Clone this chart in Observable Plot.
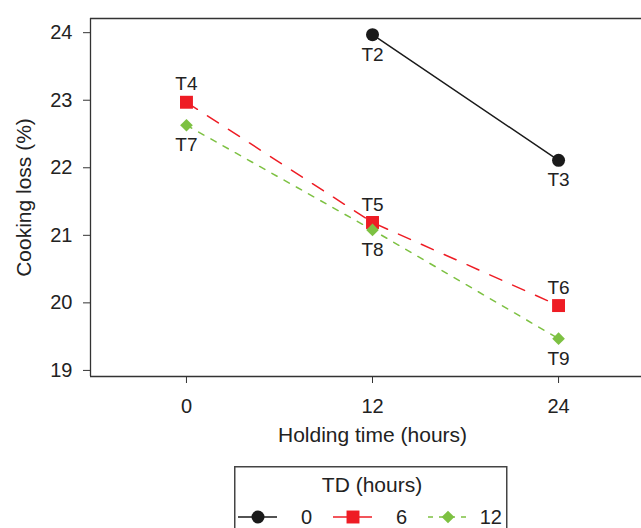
<!DOCTYPE html>
<html><head><meta charset="utf-8">
<script src="https://cdn.jsdelivr.net/npm/d3@7"></script>
<script src="https://cdn.jsdelivr.net/npm/@observablehq/plot@0.6"></script>
<style>
body{margin:0;background:#fff;}
#wrap{position:relative;width:641px;height:528px;overflow:hidden;font-family:"Liberation Sans",Arial,Helvetica,sans-serif;color:#222;}
#legend{position:absolute;left:234px;top:466px;}
</style></head><body><div id="wrap"></div>
<script>
// ---- data ----
const hours = [0, 12, 24];
const tdLevels = ["0", "6", "12"];
const lossTD0 = [null, 23.97, 22.11];
const lossTD6 = [22.97, 21.19, 19.96];
const lossTD12 = [22.63, 21.08, 19.47];
const labelsTD0 = [null, "T2", "T3"];
const labelsTD6 = ["T4", "T5", "T6"];
const labelsTD12 = ["T7", "T8", "T9"];
const sideTD0 = [null, "below", "below"];
const sideTD6 = ["above", "above", "above"];
const sideTD12 = ["below", "below", "below"];
const xTicks = [0, 12, 24];
const yTicks = [19, 20, 21, 22, 23, 24];
const xTitle = "Holding time (hours)";
const yTitle = "Cooking loss (%)";
const legendTitle = "TD (hours)";

// ---- styles ----
const colors = ["#1a1a1a", "#ee1c24", "#7dc142"];
const symbols = ["circle", "square", "diamond2"];
const radii = [6.5, 7.3, 5.7];
const dashes = [null, "13,12", "6,8"];

const seriesLoss = [lossTD0, lossTD6, lossTD12];
const seriesLabels = [labelsTD0, labelsTD6, labelsTD12];
const seriesSide = [sideTD0, sideTD6, sideTD12];

const rows = [];
tdLevels.forEach((td, s) => {
  hours.forEach((h, i) => {
    if (seriesLoss[s][i] != null) rows.push({td, s, hour: h, loss: seriesLoss[s][i], label: seriesLabels[s][i], side: seriesSide[s][i]});
  });
});

const xDomain = [-6.19, 29.35];
const yDomain = [18.91, 24.21];
const tickFont = 20, titleFont = 21, labelFont = 19;
const ff = '"Liberation Sans", Arial, Helvetica, sans-serif';

const marks = [
  Plot.ruleY([yDomain[0], yDomain[1]], {stroke: "#333", strokeWidth: 1.3}),
  Plot.ruleX([xDomain[0]], {stroke: "#333", strokeWidth: 1.3}),
  Plot.axisY(yTicks, {tickSize: 7, tickPadding: 11, fontSize: tickFont, label: null, stroke: "#333", tickFormat: d => String(d)}),
  Plot.axisX(xTicks, {tickSize: 7, tickPadding: 15, fontSize: tickFont, label: null, stroke: "#333", tickFormat: d => String(d)}),
  Plot.text([yTitle], {frameAnchor: "left", textAnchor: "middle", rotate: -90, dx: -66, fontSize: titleFont, fill: "#222"}),
  Plot.text([xTitle], {x: [xTicks[1]], frameAnchor: "bottom", dy: 65, fontSize: titleFont, fill: "#222"})
];
tdLevels.forEach((td, s) => {
  const d = rows.filter(r => r.s === s);
  marks.push(Plot.line(d, {x: "hour", y: "loss", stroke: colors[s], strokeWidth: 1.5, strokeDasharray: dashes[s]}));
});
tdLevels.forEach((td, s) => {
  const d = rows.filter(r => r.s === s);
  marks.push(Plot.dot(d, {x: "hour", y: "loss", fill: colors[s], symbol: () => symbols[s], r: radii[s], stroke: "none"}));
});
marks.push(Plot.text(rows.filter(r => r.side === "above"), {x: "hour", y: "loss", text: "label", dy: -18, fontSize: labelFont, fill: "#222"}));
marks.push(Plot.text(rows.filter(r => r.side === "below"), {x: "hour", y: "loss", text: "label", dy: 20, fontSize: labelFont, fill: "#222"}));

const chart = Plot.plot({
  width: 641,
  height: 460,
  marginTop: 18,
  marginLeft: 90,
  marginRight: 0,
  marginBottom: 84,
  style: {fontFamily: ff, color: "#222", background: "#fff", overflow: "visible"},
  x: {domain: xDomain},
  y: {domain: yDomain},
  symbol: {type: "identity"},
  marks
});
const wrap = document.getElementById("wrap");
wrap.appendChild(chart);

// ---- legend (below the plot) ----
const lg = d3.select(wrap).append("svg").attr("id", "legend")
  .attr("width", 274).attr("height", 62)
  .style("font-family", ff);
lg.append("rect").attr("x", 0.75).attr("y", 0.75).attr("width", 272).attr("height", 120)
  .attr("fill", "none").attr("stroke", "#444").attr("stroke-width", 1.5);
lg.append("text").attr("x", 138).attr("y", 18).attr("text-anchor", "middle")
  .attr("dominant-baseline", "central").attr("font-size", titleFont).attr("fill", "#222").text(legendTitle);
tdLevels.forEach((td, s) => {
  const x0 = 4 + 95 * s, yk = 51;
  const ln = lg.append("line").attr("x1", x0).attr("x2", x0 + 39).attr("y1", yk).attr("y2", yk)
    .attr("stroke", colors[s]).attr("stroke-width", 1.5);
  if (s === 2) ln.attr("stroke-dasharray", "5,6");
  const symType = [d3.symbolCircle, d3.symbolSquare, d3.symbolDiamond2][s];
  lg.append("path").attr("transform", `translate(${x0 + 20},${yk})`)
    .attr("d", d3.symbol(symType, Math.PI * radii[s] * radii[s])())
    .attr("fill", colors[s]);
  lg.append("text").attr("x", x0 + 74).attr("y", yk).attr("text-anchor", "end")
    .attr("dominant-baseline", "central").attr("font-size", tickFont).attr("fill", "#222").text(td);
});
</script>
</body></html>
